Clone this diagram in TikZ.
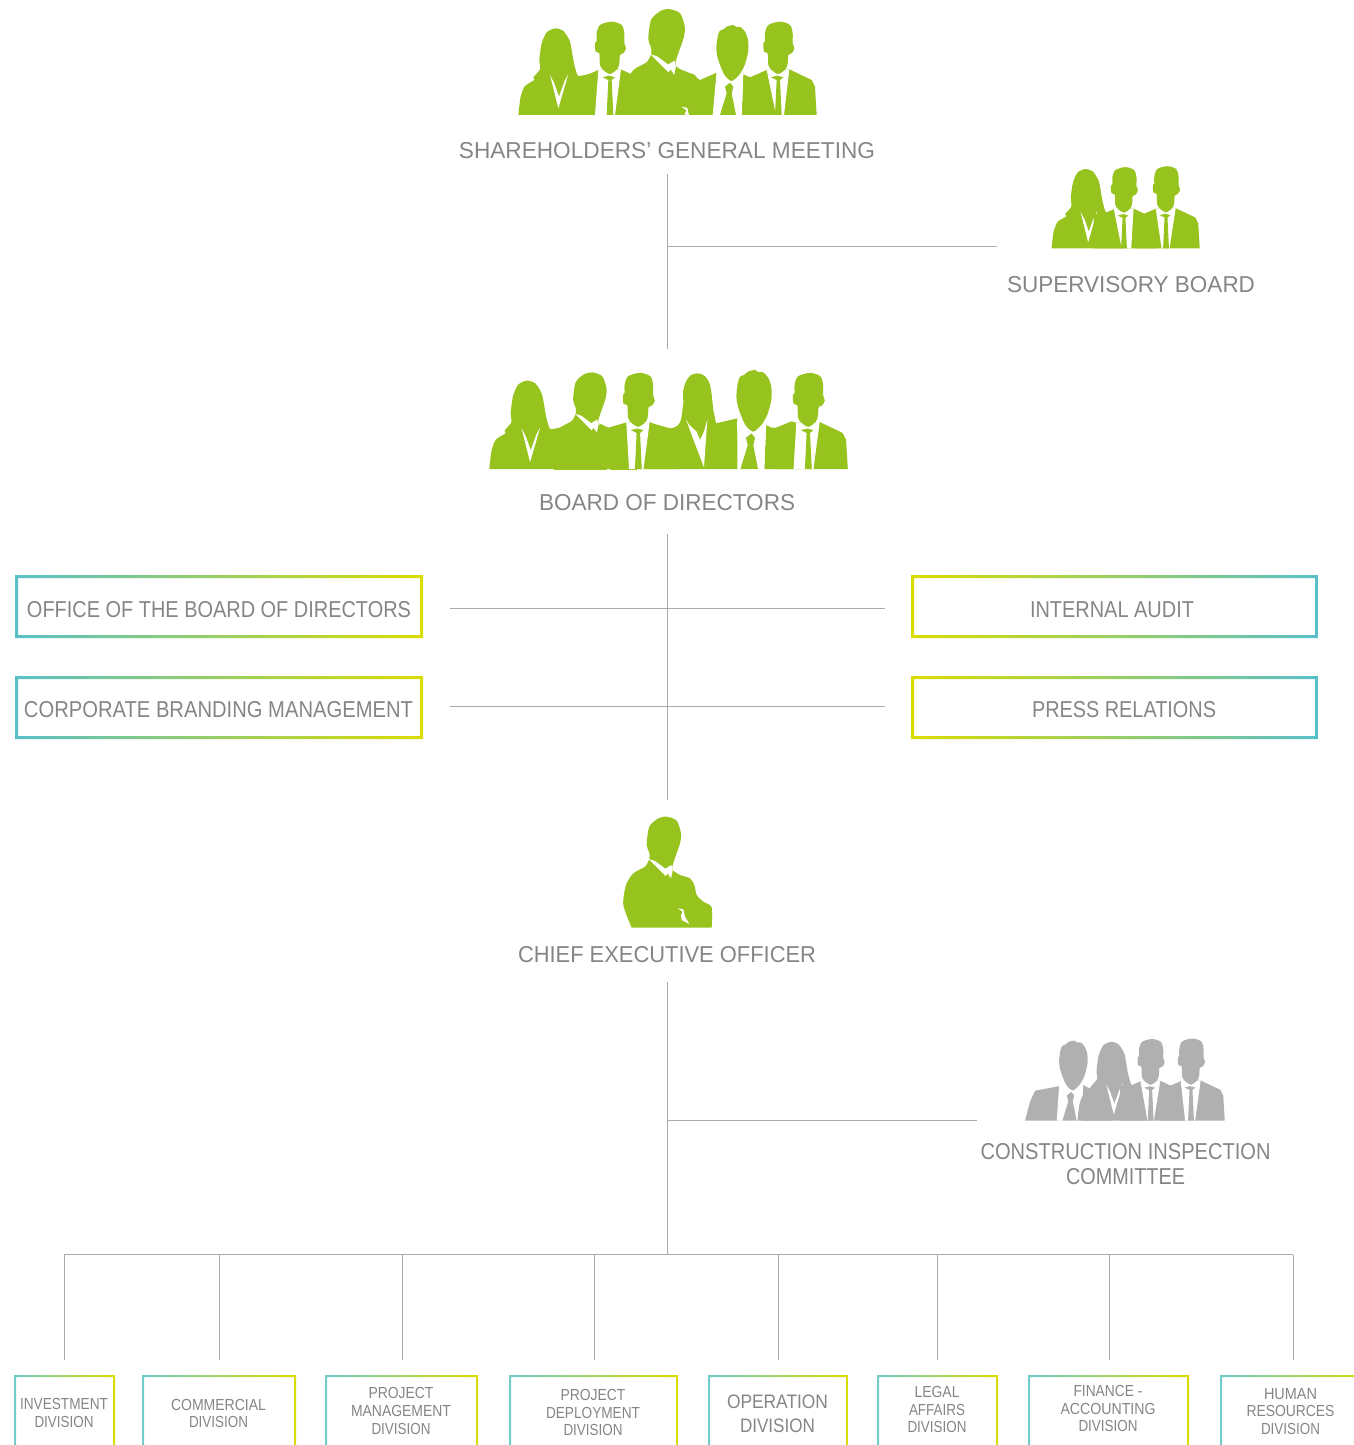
\documentclass[tikz,border=0pt]{standalone}
\usepackage{fontspec}
\usepackage{graphicx}
\setmainfont{Liberation Sans}
\definecolor{leaf}{HTML}{96C31E}
\definecolor{ash}{HTML}{B0B0B0}
\definecolor{txt}{HTML}{858585}
\definecolor{wire}{HTML}{ABABAB}
\definecolor{teal}{HTML}{58C0C8}
\definecolor{mint}{HTML}{70CDCB}
\definecolor{lime}{HTML}{DADC00}
\colorlet{fg}{leaf}
\newcommand\lab[2]{\resizebox{#1pt}{\height}{#2}}
% silhouettes: local units are third-pixels, origin on the base line
\newcommand\figceo[3]{\begin{scope}[shift={(#1,#2)},scale=#3]
 \fill[fg] plot[smooth,tension=.45] coordinates {(-95,0)(-120,-68)(-112,-128)(-90,-163)(-55,-183)(-42,-206)(-42,-225)(-50,-248)(-42,-303)(-15,-328)(10,-333)(40,-321)(53,-283)(50,-253)(38,-218)(28,-188)(28,-173)(50,-158)(80,-148)(93,-128)(100,-98)(120,-78)(145,-61)(145,0)} -- cycle;
 \fill[white] (-44,-206)--(7,-155)--(13,-163)--(23,-148)--(28,-171)--(24,-188)--(6,-177)--(-25,-200)--cycle;
 \fill[white] (43,-58)--(60,-55)--(65,-33)--(78,-11)--(55,-23)--(53,-38)--(58,-48)--cycle;
\end{scope}}
\newcommand\figwoman[3]{\begin{scope}[shift={(#1,#2)},scale=#3]
 \fill[fg] plot[smooth,tension=.4] coordinates {(-113,0)(-106,-55)(-93,-87)(-65,-105)(-68,-113)(-48,-137)(-50,-165)(-43,-215)(-28,-248)(-3,-260)(22,-252)(42,-220)(54,-155)(64,-120)(72,-117)} -- (125,-128) -- (125,0) -- cycle;
 \fill[white] (-18,-120)--(7,-20)--(37,-123)--(25,-100)--(9,-55)--(-5,-95)--cycle;
\end{scope}}
\newcommand\figtie[5]{\begin{scope}[shift={(#1,#2)},scale=#3]
 \fill[fg] (-35,-135)--(-85,-113)--(-105,-122)--(-105,0)--(115,0)--(110,-85)--(100,-105)--(33,-137)--cycle;
 \fill[white] (-35,-135)--(#4,0)--(#5,0)--(33,-137)--cycle;
 \fill[fg] (-22,-113)--(-3,-118)--(15,-113)--(5,-105)--(10,0)--(-10,0)--(-5,-105)--cycle;
 \fill[fg] plot[smooth cycle,tension=.5] coordinates {(-40,-245)(-30,-270)(5,-280)(35,-270)(43,-245)(43,-215)(48,-200)(40,-185)(30,-180)(28,-155)(22,-138)(0,-123)(-20,-135)(-30,-150)(-32,-185)(-43,-190)(-45,-215)(-40,-222)};
\end{scope}}
\newcommand\figspiky[4]{\begin{scope}[shift={(#1,#2)},scale=#3]
 \fill[fg] (33,-120)--(53,-110)--(103,-130)--(130,-120)--(130,0)--(28,0)--cycle;
 \fill[white] (-47,-130)--(#4,0)--(28,0)--(33,-120)--cycle;
 \fill[fg] (-22,-85)--(-7,-97)--(3,-85)--(-2,-65)--(11,0)--(-37,0)--(-17,-65)--cycle;
 \fill[fg] plot[smooth cycle,tension=.45] coordinates {(-44,-235)(-38,-252)(-28,-256)(-15,-266)(3,-270)(12,-264)(24,-264)(38,-250)(47,-225)(48,-195)(43,-170)(35,-145)(20,-120)(-2,-102)(-22,-118)(-35,-145)(-45,-175)(-48,-200)};
\end{scope}}
% gradient-framed box: name, cx, cy, w, h, stroke, left colour, right colour
\newcommand\gbox[8]{
 \node[boxn,minimum width=#4pt,minimum height=#5pt] (#1) at (#2,#3) {};
 \shade[even odd rule,left color=#7,right color=#8] (#1.south west) rectangle (#1.north east)
   ([xshift=#6pt,yshift=#6pt]#1.south west) rectangle ([xshift=-#6pt,yshift=-#6pt]#1.north east);
}
\tikzset{
 boxn/.style={rectangle,inner sep=0pt,outer sep=0pt},
 big/.style={text=txt,inner sep=0pt,align=center,font=\fontsize{23}{25}\selectfont},
 small/.style={text=txt,inner sep=0pt,align=center,font=\fontsize{16}{17.8}\selectfont},
 mid/.style={text=txt,inner sep=0pt,align=center,font=\fontsize{19.5}{24}\selectfont},
 wirel/.style={draw=wire,line width=1pt},
 group/.style={x=0.33333pt,y=-0.33333pt}
}
\begin{document}
\begin{tikzpicture}[x=1pt,y=-1pt]
\path[use as bounding box] (0,0) rectangle (1354,1445);
\clip (0,0) rectangle (1354,1445);
% group 1
\begin{scope}[shift={(500,0)},group]
 \fill[fg] (530,205)--(560,215)--(600,240)--(650,218)--(640,345)--(530,345)--cycle;
 \begin{scope}\clip (-400,0) rectangle (1200,345); \figceo{498}{382}{1.065}\end{scope}
 \figwoman{168}{345}{1}
 \figtie{330}{345}{1}{-45}{15}
 \figspiky{697}{345}{1}{-59}
 \figtie{835}{345}{1}{-7}{17}
\end{scope}
% group 2
\begin{scope}[shift={(480,360)},group]
 \fill[fg] (358,190)--(385,203)--(437,188)--(447,327)--(380,327)--cycle;
 \begin{scope}\clip (-400,0) rectangle (1200,327); \figceo{328}{362}{.975}\end{scope}
 \figwoman{143}{327}{1.02}
 \figtie{475}{327}{1.03}{-27}{15}
 \fill[fg] (495,327)--(510,188)--(570,205) .. controls (590,203) and (600,195) .. (604,175)--(610,130)--(609,95)
   .. controls (615,60) and (630,40) .. (650,40) .. controls (675,40) and (690,60) .. (694,95)--(700,150)--(708,190)--(772,175)--(772,327)--cycle;
 \fill[white] (618,178)--(635,225)--(672,322)--(682,178)--(672,215)--(660,240)--(650,215)--(628,195)--cycle;
 \figspiky{822}{327}{1.1}{-38}
 \figtie{985}{327}{1.03}{-43}{15}
\end{scope}
% group 3
\begin{scope}[shift={(1040,160)},group]
 \figwoman{138}{265}{.915}
 \figtie{252}{265}{.87}{-8}{25}
 \figtie{378}{265}{.88}{-15}{12}
\end{scope}
% group 4
\begin{scope}[shift={(600,810)},group]
 \figceo{190}{353}{1}
\end{scope}
% group 5
\begin{scope}[shift={(1010,1030)},group,]
 \colorlet{fg}{ash}
 \fill[fg] (45,272)--(60,215)--(75,182)--(150,168)--(150,272)--cycle;
 \figspiky{190}{272}{.89}{-56}
 \figwoman{305}{272}{.91}
 \figtie{422}{272}{.875}{-11}{11}
 \figtie{543}{272}{.88}{-20}{14}
\end{scope}
% titles
\node[big] (tSH) at (667,151) {\lab{416}{SHAREHOLDERS’ GENERAL MEETING}};
\node[big] (tSB) at (1131,285) {\lab{248}{SUPERVISORY BOARD}};
\node[big] (tBD) at (667,503) {\lab{256}{BOARD OF DIRECTORS}};
\node[big] (tCE) at (667,955) {\lab{298}{CHIEF EXECUTIVE OFFICER}};
\node[big] (tCI) at (1125.5,1164.5) {\lab{290}{CONSTRUCTION INSPECTION}\\\lab{119}{COMMITTEE}};
% upper boxes
\gbox{bOF}{219}{606.5}{408}{63}{3}{teal}{lime}
\gbox{bCB}{219}{707.5}{408}{63}{3}{teal}{lime}
\gbox{bIA}{1114.5}{606.5}{407}{63}{3}{lime}{teal}
\gbox{bPR}{1114.5}{707.5}{407}{63}{3}{lime}{teal}
\node[big] (tOF) at (219,610) {\lab{384}{OFFICE OF THE BOARD OF DIRECTORS}};
\node[big] (tCB) at (218.5,710) {\lab{389}{CORPORATE BRANDING MANAGEMENT}};
\node[big] (tIA) at (1112,610) {\lab{164}{INTERNAL AUDIT}};
\node[big] (tPR) at (1124,710) {\lab{184}{PRESS RELATIONS}};
% lower boxes (run past the lower edge)
\gbox{d1}{64.5}{1425}{101}{100}{2}{mint}{lime}
\gbox{d2}{219}{1425}{154}{100}{2}{mint}{lime}
\gbox{d3}{401.5}{1425}{153}{100}{2}{mint}{lime}
\gbox{d4}{593.5}{1425}{169}{100}{2}{mint}{lime}
\gbox{d5}{778}{1425}{140}{100}{2}{mint}{lime}
\gbox{d6}{937.5}{1425}{121}{100}{2}{mint}{lime}
\gbox{d7}{1108.5}{1425}{161}{100}{2}{mint}{lime}
\gbox{d8}{1297}{1425}{154}{100}{2}{mint}{lime}
\node[small] (x1) at (64,1413) {\lab{88}{INVESTMENT}\\\lab{59}{DIVISION}};
\node[small] (x2) at (218.5,1413.5) {\lab{95}{COMMERCIAL}\\\lab{59}{DIVISION}};
\node[small] (x3) at (401,1411) {\lab{65}{PROJECT}\\\lab{100}{MANAGEMENT}\\\lab{59}{DIVISION}};
\node[small] (x4) at (593,1412.5) {\lab{65}{PROJECT}\\\lab{94}{DEPLOYMENT}\\\lab{59}{DIVISION}};
\node[mid] (x5) at (777.5,1414) {\lab{101}{OPERATION}\\\lab{75}{DIVISION}};
\node[small] (x6) at (937,1409.5) {\lab{45}{LEGAL}\\\lab{56}{AFFAIRS}\\\lab{59}{DIVISION}};
\node[small] (x7) at (1108,1408.5) {\lab{69}{FINANCE -}\\\lab{95}{ACCOUNTING}\\\lab{59}{DIVISION}};
\node[small] (x8) at (1290.5,1411.5) {\lab{53}{HUMAN}\\\lab{88}{RESOURCES}\\\lab{59}{DIVISION}};
% connector end points
\coordinate (a1) at (667,174); \coordinate (a2) at (667,349); \coordinate (a3) at (667,246.5); \coordinate (a4) at (997,246.5);
\coordinate (c1) at (667,534); \coordinate (c2) at (667,800);
\coordinate (h1) at (449.5,608.5); \coordinate (h2) at (885,608.5);
\coordinate (h3) at (449.5,706.5); \coordinate (h4) at (885,706.5);
\coordinate (e1) at (667,982); \coordinate (e2) at (667,1254.5);
\coordinate (e3) at (667,1120); \coordinate (e4) at (977,1120);
\coordinate (bus1) at (64,1254.5); \coordinate (bus2) at (1293,1254.5);
\foreach \n/\p in {1/64,2/219,3/402,4/594,5/778,6/937,7/1109,8/1293}{
 \coordinate (u\n) at (\p,1254.5); \coordinate (v\n) at (\p,1360);
 \draw[wirel] (u\n) -- (v\n);
}
\draw[wirel] (a1) -- (a2);
\draw[wirel] (a3) -- (a4);
\draw[wirel] (c1) -- (c2);
\draw[wirel] (h1) -- (h2);
\draw[wirel] (h3) -- (h4);
\draw[wirel] (e1) -- (e2);
\draw[wirel] (e3) -- (e4);
\draw[wirel] (bus1) -- (bus2);
\end{tikzpicture}
\end{document}
